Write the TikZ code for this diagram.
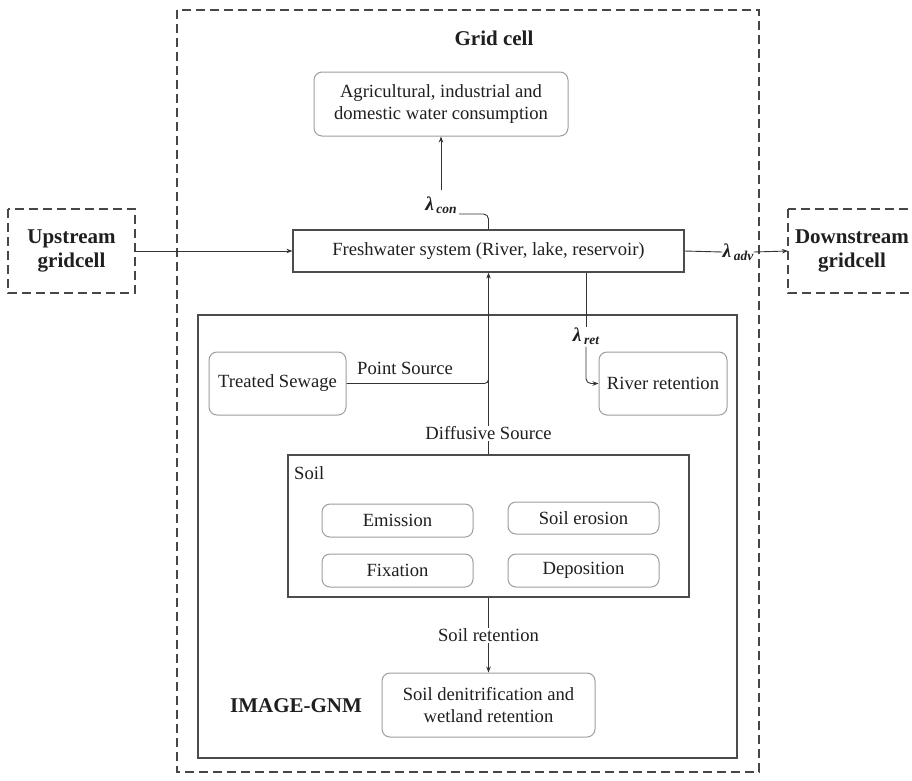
\documentclass[tikz,border=0pt]{standalone}
\usepackage{fontspec}
\setmainfont{Liberation Serif}
\usetikzlibrary{arrows.meta,calc}
\newcommand\lamlab[1]{{\fontsize{19.5}{19.5}\selectfont\bfseries\itshape λ}\hspace{2.5pt}\raisebox{-3.5pt}{\fontsize{13.5}{13.5}\selectfont\bfseries\itshape #1}}
\begin{document}
\begin{tikzpicture}[x=1pt,y=-1pt,
  every node/.style={font=\fontsize{18.6}{22.5}\selectfont, text=black!88},
  dashbox/.style={draw=black!72, line width=1.2pt, dash pattern=on 9pt off 5pt},
  rectbox/.style={draw=black!70, line width=1.2pt},
  roundbox/.style={draw=black!38, line width=1pt, rounded corners=8pt, align=center, inner sep=0pt},
  bigbold/.style={font=\fontsize{21}{24}\selectfont\bfseries, align=center},
  conn/.style={draw=black!80, line width=0.9pt},
  arr/.style={conn, -{Stealth[length=6pt,width=4.5pt]}},
  lab/.style={fill=white, inner sep=1pt}
]
\useasboundingbox (0,0) rectangle (912,780);
\fill[white] (0,0) rectangle (912,780);

% outer dashed grid cell
\draw[dashbox] (177,10) rectangle (759,772);
\node[bigbold] (gridlab) at (494,38) {Grid cell};

% upstream / downstream
\draw[dashbox] (8,209) rectangle (135,293);
\node[bigbold, minimum width=127pt, minimum height=84pt, inner sep=0pt] (up) at (71.5,251) {Upstream\\gridcell};
\draw[dashbox] (788,209) rectangle (918,293);
\node[bigbold, minimum width=0pt, inner sep=0pt] (downtext) at (852,251) {Downstream\\gridcell};
\coordinate (down) at (788,251);

% IMAGE-GNM box
\draw[rectbox] (198,315) rectangle (737,758);
\node[bigbold] (gnm) at (296,706) {IMAGE-GNM};

% consumption
\node[roundbox, minimum width=254pt, minimum height=64pt] (cons) at (441,104) {Agricultural, industrial and\\domestic water consumption};

% freshwater system
\node[rectbox, minimum width=391pt, minimum height=42pt, inner sep=0pt] (fresh) at (488.5,251) {Freshwater system (River, lake, reservoir)};

% treated sewage and river retention
\node[roundbox, minimum width=137pt, minimum height=63pt] (sew) at (277.5,383.5) {Treated Sewage};
\node[roundbox, minimum width=128pt, minimum height=63pt] (riv) at (663,383.5) {River retention};

% soil box
\node[rectbox, minimum width=401pt, minimum height=142pt, inner sep=0pt] (soil) at (488.5,526) {};
\node[anchor=west, inner sep=0pt] (soillab) at (294,473) {Soil};
\node[roundbox, minimum width=151pt, minimum height=33pt] (emi) at (397.5,520.5) {Emission};
\node[roundbox, minimum width=151pt, minimum height=32pt] (ero) at (583.5,518) {Soil erosion};
\node[roundbox, minimum width=151pt, minimum height=33pt] (fix) at (397.5,570.5) {Fixation};
\node[roundbox, minimum width=151pt, minimum height=33pt] (dep) at (583.5,570.5) {Deposition};

% denitrification
\node[roundbox, minimum width=213pt, minimum height=64pt] (den) at (488.5,705) {Soil denitrification and\\wetland retention};

% labels on connectors
\node[inner sep=0pt] (lcon) at (441,205) {\lamlab{con}};
\node[inner sep=0pt] (ladv) at (738,252) {\lamlab{adv}};
\node[inner sep=0pt, fill=white] (lret) at (586,336) {\lamlab{ret}};
\node[inner sep=0pt] (psrc) at (405,368) {Point Source};

% connectors
\draw[arr] (up.east) -- (fresh.west);
\draw[conn] (fresh.east) -- (ladv.west);
\draw[arr] (ladv.east) -- (down);

\coordinate (c1) at (459,214);
\draw[conn, rounded corners=5pt] (fresh.north) |- (c1);
\draw[arr] ($(lcon.north)+(0,-6)$) -- (cons.south);

\draw[arr] (soil.north) -- node[lab, pos=0.115] (dsrc) {Diffusive Source} (fresh.south);
\coordinate (pj) at (488.5,368);
\draw[conn, rounded corners=4pt] (sew.east) -| (pj);

\coordinate (rs) at (586,272);
\draw[conn] (fresh.south -| rs) -- (lret.north);
\draw[arr, rounded corners=5pt] ($(lret.south)+(0,2)$) |- (riv.west);

\draw[arr] (soil.south) -- node[lab, pos=0.5] (sret) {Soil retention} (den.north);
\end{tikzpicture}
\end{document}
